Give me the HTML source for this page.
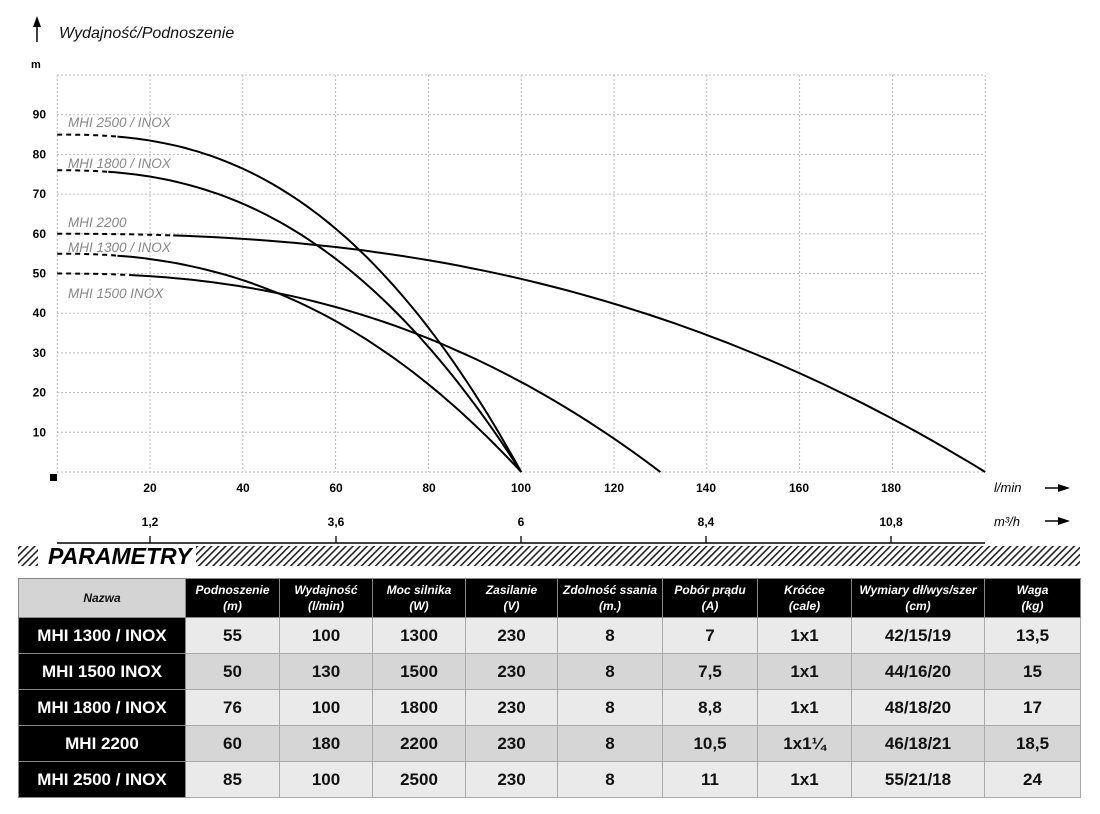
<!DOCTYPE html>
<html><head><meta charset="utf-8"><style>
body{margin:0;background:#fff;width:1100px;height:814px;overflow:hidden;font-family:"Liberation Sans",sans-serif}
table{position:absolute;left:18px;top:578px;border-collapse:collapse;table-layout:fixed}
td{border:1px solid #aaa;text-align:center;padding:0;font-weight:bold;font-size:17px;color:#111}
tr.h td{background:#000;color:#fff;font-style:italic;font-size:12px;height:38px;line-height:16px;border-color:#888}
tr.h td.n{background:#d4d4d4;color:#111}
tr.r td{height:35px;background:#eaeaea}
tr.r.d td{background:#d6d6d6}
tr.r td.n{background:#000;color:#fff;border-color:#888}
</style></head><body>
<svg width="1100" height="814" style="position:absolute;left:0;top:0" font-family="Liberation Sans, sans-serif">
<defs><pattern id="hp" width="5" height="5" patternUnits="userSpaceOnUse" patternTransform="rotate(45)"><rect width="1.6" height="5" fill="#222"/></pattern></defs>
<g id="grid" stroke="#bbb" stroke-width="1" stroke-dasharray="2,2"></g>
<line x1="37" y1="42" x2="37" y2="26" stroke="#000" stroke-width="1.5"/><polygon points="33,27 41,27 37,16" fill="#000"/>
<text x="59" y="38" font-size="16" font-style="italic" fill="#111">Wydajność/Podnoszenie</text>
<text x="31" y="68" font-size="11" font-weight="bold">m</text>
<g id="yl" font-size="12" font-weight="bold" text-anchor="end"></g>
<rect x="50" y="474" width="7" height="7" fill="#000"/>
<g font-size="12" font-weight="bold" text-anchor="middle">
<text x="150" y="492">20</text><text x="243" y="492">40</text><text x="336" y="492">60</text><text x="429" y="492">80</text><text x="521" y="492">100</text><text x="614" y="492">120</text><text x="706" y="492">140</text><text x="799" y="492">160</text><text x="891" y="492">180</text>
<text x="150" y="526">1,2</text><text x="336" y="526">3,6</text><text x="521" y="526">6</text><text x="706" y="526">8,4</text><text x="891" y="526">10,8</text>
</g>
<text x="994" y="492" font-size="13" font-style="italic">l/min</text>
<text x="994" y="526" font-size="13" font-style="italic">m³/h</text>
<line x1="1045" y1="488" x2="1060" y2="488" stroke="#000" stroke-width="1.5"/><polygon points="1058,484 1070,488 1058,492"/>
<line x1="1045" y1="521" x2="1060" y2="521" stroke="#000" stroke-width="1.5"/><polygon points="1058,517 1070,521 1058,525"/>
<line x1="57" y1="543" x2="985" y2="543" stroke="#000" stroke-width="1.5"/>
<g stroke="#000" stroke-width="1.3"><line x1="150" y1="536" x2="150" y2="543"/><line x1="336" y1="536" x2="336" y2="543"/><line x1="521" y1="536" x2="521" y2="543"/><line x1="706" y1="536" x2="706" y2="543"/><line x1="891" y1="536" x2="891" y2="543"/></g>
<rect x="18" y="546" width="20" height="20" fill="url(#hp)"/>
<rect x="196" y="546" width="884" height="20" fill="url(#hp)"/>
<text x="48" y="564" font-size="23" font-weight="bold" font-style="italic">PARAMETRY</text>
<g font-size="13.5" font-style="italic" fill="#888">
<text x="68" y="127">MHI 2500 / INOX</text><text x="68" y="168">MHI 1800 / INOX</text><text x="68" y="227">MHI 2200</text><text x="68" y="252">MHI 1300 / INOX</text><text x="68" y="298">MHI 1500 INOX</text>
</g>
<g id="curves" fill="none" stroke="#000" stroke-width="2"></g>
</svg>
<table>
<colgroup><col style="width:167px"><col style="width:94px"><col style="width:93px"><col style="width:93px"><col style="width:92px"><col style="width:105px"><col style="width:95px"><col style="width:94px"><col style="width:133px"><col style="width:96px"></colgroup>
<tr class="h"><td class="n">Nazwa</td><td>Podnoszenie<br>(m)</td><td>Wydajność<br>(l/min)</td><td>Moc silnika<br>(W)</td><td>Zasilanie<br>(V)</td><td>Zdolność ssania<br>(m.)</td><td>Pobór prądu<br>(A)</td><td>Króćce<br>(cale)</td><td>Wymiary dł/wys/szer<br>(cm)</td><td>Waga<br>(kg)</td></tr>
<tr class="r"><td class="n">MHI 1300 / INOX</td><td>55</td><td>100</td><td>1300</td><td>230</td><td>8</td><td>7</td><td>1x1</td><td>42/15/19</td><td>13,5</td></tr>
<tr class="r d"><td class="n">MHI 1500 INOX</td><td>50</td><td>130</td><td>1500</td><td>230</td><td>8</td><td>7,5</td><td>1x1</td><td>44/16/20</td><td>15</td></tr>
<tr class="r"><td class="n">MHI 1800 / INOX</td><td>76</td><td>100</td><td>1800</td><td>230</td><td>8</td><td>8,8</td><td>1x1</td><td>48/18/20</td><td>17</td></tr>
<tr class="r d"><td class="n">MHI 2200</td><td>60</td><td>180</td><td>2200</td><td>230</td><td>8</td><td>10,5</td><td>1x1¼</td><td>46/18/21</td><td>18,5</td></tr>
<tr class="r"><td class="n">MHI 2500 / INOX</td><td>85</td><td>100</td><td>2500</td><td>230</td><td>8</td><td>11</td><td>1x1</td><td>55/21/18</td><td>24</td></tr>
</table>
<script>
var NS="http://www.w3.org/2000/svg";
function X(q){return 57.2+q*4.64}function Y(h){return 472-h*3.97}
function el(p,t,a){var e=document.createElementNS(NS,t);for(var k in a)e.setAttribute(k,a[k]);p.appendChild(e);return e}
var g=document.getElementById('grid');
for(var i=0;i<=10;i++){el(g,'line',{x1:X(i*20),y1:75,x2:X(i*20),y2:472});}
for(var j=0;j<=10;j++){el(g,'line',{x1:57,y1:Y(j*10),x2:984,y2:Y(j*10)});}
var yl=document.getElementById('yl');
for(var j=1;j<=9;j++){var t=el(yl,'text',{x:46,y:Y(j*10)+4});t.textContent=j*10;}
var c=document.getElementById('curves');
var S=[[85,100,2.5,13],[76,100,2.4,11],[60,200,2.4,25],[55,100,2.3,13],[50,130,2.3,16]];
S.forEach(function(s){
 function pts(a,b){var r=[];for(var q=a;q<=b+1e-9;q+=(b-a)/60){r.push(X(q).toFixed(1)+','+Y(s[0]*(1-Math.pow(q/s[1],s[2]))).toFixed(1));}return r.join(' ');}
 el(c,'polyline',{points:pts(0,s[3]),'stroke-dasharray':'5,4'});
 el(c,'polyline',{points:pts(s[3],s[1])});
});
</script>
</body></html>
